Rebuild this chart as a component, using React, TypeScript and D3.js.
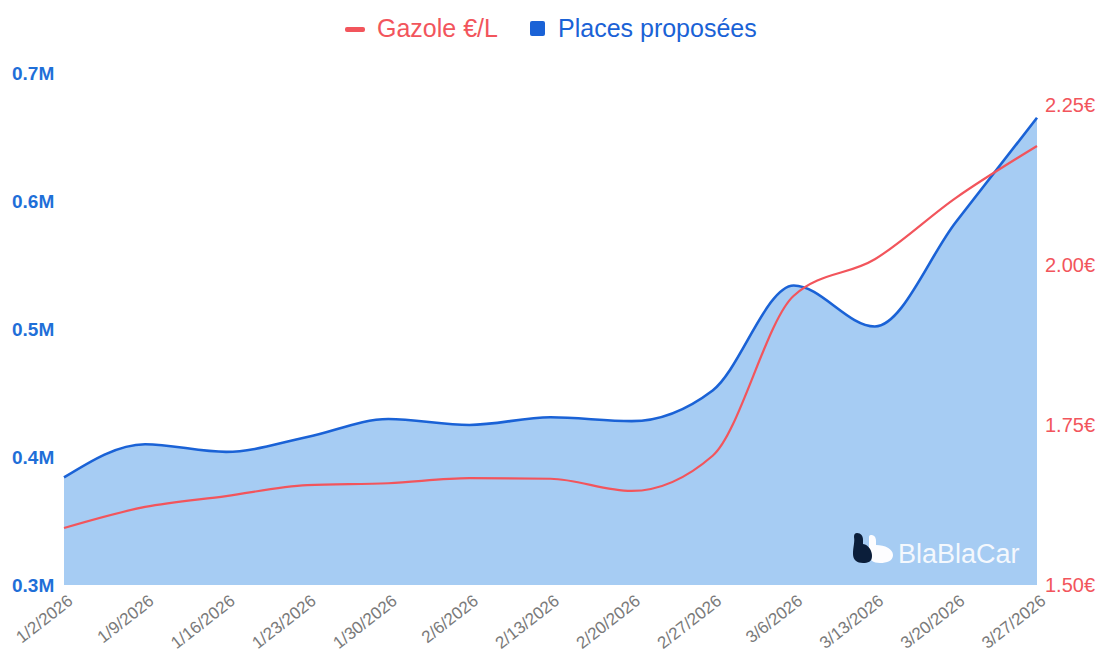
import * as d3 from 'd3';
import { useEffect, useRef } from 'react';

const dates = [
  '1/2/2026', '1/9/2026', '1/16/2026', '1/23/2026', '1/30/2026', '2/6/2026', '2/13/2026',
  '2/20/2026', '2/27/2026', '3/6/2026', '3/13/2026', '3/20/2026', '3/27/2026',
];

// places proposées (M)
const places = [0.384, 0.41, 0.404, 0.4156, 0.4297, 0.425, 0.431, 0.428, 0.452, 0.534, 0.502, 0.5836, 0.665];

// gazole €/L
const gazole = [1.589, 1.622, 1.639, 1.656, 1.659, 1.667, 1.666, 1.647, 1.702, 1.952, 2.009, 2.105, 2.186];

const leftTicks = [0.3, 0.4, 0.5, 0.6, 0.7];
const rightTicks = [1.5, 1.75, 2.0, 2.25];

const RED = '#f2555c';
const BLUE = '#1a62d6';
const FILL = '#a6ccf3';
const FONT = 'Helvetica, Arial, "Liberation Sans", sans-serif';

const width = 1101;
const height = 668;

export default function App() {
  const ref = useRef<SVGSVGElement | null>(null);

  useEffect(() => {
    if (!ref.current) return;
    const svg = d3.select(ref.current);
    svg.selectAll('*').remove();

    const x = d3.scalePoint<string>().domain(dates).range([64, 1037]);
    const yL = d3.scaleLinear().domain([0.3, 0.7]).range([585, 73]);
    const yR = d3.scaleLinear().domain([1.5, 2.3]).range([585, 73]);

    const area = d3
      .area<number>()
      .x((_, i) => x(dates[i])!)
      .y0(yL(0.3))
      .y1((d) => yL(d))
      .curve(d3.curveMonotoneX);

    const lineL = d3
      .line<number>()
      .x((_, i) => x(dates[i])!)
      .y((d) => yL(d))
      .curve(d3.curveMonotoneX);

    const lineR = d3
      .line<number>()
      .x((_, i) => x(dates[i])!)
      .y((d) => yR(d))
      .curve(d3.curveMonotoneX);

    svg.append('rect').attr('width', width).attr('height', height).attr('fill', '#fff');

    svg.append('path').datum(places).attr('d', area).attr('fill', FILL);

    // logo
    const logo = svg.append('g').attr('transform', 'translate(852,533)');
    logo
      .append('path')
      .attr('d', 'M19,2 C22,2 24,4 24,8 L24,12 C33,12 41,16 41,22 C41,28 35,30 28,30 C21,30 17,27 17,21 L17,6 C17,3 17,2 19,2 Z')
      .attr('fill', '#fdfdff');
    logo
      .append('path')
      .attr('d', 'M5,0 C9,0 11,3 11,7 L11,11 C17,12 20,18 20,23 C20,29 16,30 11,30 C5,30 1,27 1,21 C1,14 3,9 2,4 C2,1 3,0 5,0 Z')
      .attr('fill', '#0b1e3a');
    svg
      .append('text')
      .attr('x', 898)
      .attr('y', 563)
      .attr('font-family', FONT)
      .attr('font-size', 27)
      .attr('fill', '#f4f8fd')
      .text('BlaBlaCar');

    svg
      .append('path')
      .datum(places)
      .attr('d', lineL)
      .attr('fill', 'none')
      .attr('stroke', BLUE)
      .attr('stroke-width', 2.6);

    svg
      .append('path')
      .datum(gazole)
      .attr('d', lineR)
      .attr('fill', 'none')
      .attr('stroke', RED)
      .attr('stroke-width', 2.2);

    // left axis
    svg
      .append('g')
      .selectAll('text')
      .data(leftTicks)
      .join('text')
      .attr('x', 12)
      .attr('y', (d) => yL(d) + 7)
      .attr('font-family', FONT)
      .attr('font-size', 19)
      .attr('font-weight', 600)
      .attr('fill', '#1f6fd8')
      .text((d) => `${d.toFixed(1)}M`);

    // right axis
    svg
      .append('g')
      .selectAll('text')
      .data(rightTicks)
      .join('text')
      .attr('x', 1045)
      .attr('y', (d) => yR(d) + 7)
      .attr('font-family', FONT)
      .attr('font-size', 20)
      .attr('fill', RED)
      .text((d) => `${d.toFixed(2)}€`);

    // x labels
    svg
      .append('g')
      .selectAll('text')
      .data(dates)
      .join('text')
      .attr('transform', (d) => `translate(${x(d)! + 10},${603}) rotate(-38)`)
      .attr('text-anchor', 'end')
      .attr('font-family', FONT)
      .attr('font-size', 17)
      .attr('fill', '#7a7a7a')
      .text((d) => d);

    // legend
    const lg = svg.append('g');
    lg.append('rect').attr('x', 345).attr('y', 27).attr('width', 20).attr('height', 5).attr('rx', 2).attr('fill', RED);
    lg.append('text')
      .attr('x', 377)
      .attr('y', 37)
      .attr('font-family', FONT)
      .attr('font-size', 25)
      .attr('fill', RED)
      .text('Gazole €/L');
    lg.append('rect').attr('x', 530).attr('y', 21).attr('width', 15).attr('height', 15).attr('rx', 2).attr('fill', BLUE);
    lg.append('text')
      .attr('x', 558)
      .attr('y', 37)
      .attr('font-family', FONT)
      .attr('font-size', 25)
      .attr('fill', BLUE)
      .text('Places proposées');
  }, []);

  return (
    <svg
      ref={ref}
      width={width}
      height={height}
      style={{ position: 'absolute', left: 0, top: 0 }}
    />
  );
}
